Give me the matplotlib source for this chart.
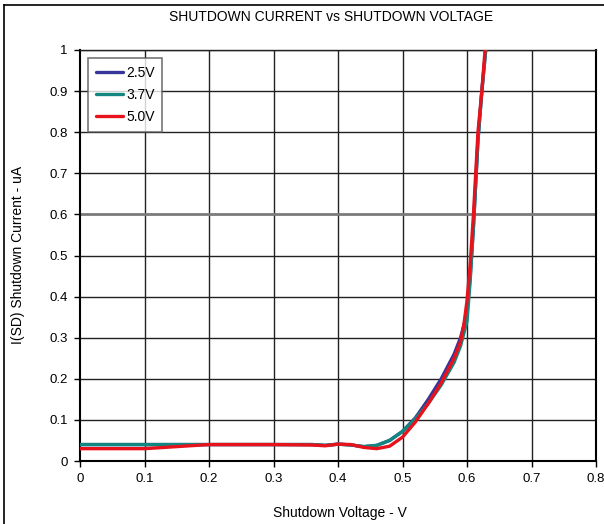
import matplotlib
matplotlib.use("Agg")
import matplotlib.pyplot as plt
from matplotlib.lines import Line2D

plt.rcParams['font.family'] = ['Liberation Sans', 'DejaVu Sans']

# Shutdown voltage (V) vs shutdown current (uA) for three supply voltages
v_25 = [0, 0.1, 0.2, 0.3, 0.36, 0.38, 0.40, 0.42, 0.44, 0.46, 0.48, 0.50,
        0.52, 0.54, 0.56, 0.58, 0.59, 0.60, 0.605, 0.61, 0.617, 0.623, 0.629]
i_25 = [0.04, 0.04, 0.04, 0.04, 0.04, 0.038, 0.041, 0.039, 0.035, 0.038, 0.05, 0.072,
        0.105, 0.15, 0.20, 0.26, 0.30, 0.36, 0.45, 0.57, 0.78, 0.9, 1.0]

v_37 = [0, 0.1, 0.2, 0.3, 0.36, 0.38, 0.40, 0.42, 0.44, 0.46, 0.48, 0.50,
        0.52, 0.54, 0.56, 0.58, 0.59, 0.60, 0.605, 0.61, 0.617, 0.623, 0.629]
i_37 = [0.04, 0.04, 0.04, 0.04, 0.04, 0.038, 0.041, 0.039, 0.035, 0.038, 0.05, 0.072,
        0.103, 0.14, 0.185, 0.24, 0.28, 0.34, 0.44, 0.57, 0.78, 0.9, 1.0]

v_50 = [0, 0.1, 0.15, 0.2, 0.3, 0.36, 0.38, 0.40, 0.42, 0.44, 0.46, 0.48, 0.50,
        0.52, 0.54, 0.56, 0.58, 0.59, 0.595, 0.60, 0.605, 0.61, 0.617, 0.623, 0.628]
i_50 = [0.03, 0.03, 0.035, 0.04, 0.04, 0.039, 0.037, 0.041, 0.04, 0.033, 0.03, 0.036, 0.058,
        0.095, 0.14, 0.19, 0.25, 0.29, 0.33, 0.39, 0.48, 0.6, 0.8, 0.9, 1.0]

series_labels = ['2.5V', '3.7V', '5.0V']
series_colors = ['#36369a', '#12877f', '#e8121c']

x_ticks = [0, 0.1, 0.2, 0.3, 0.4, 0.5, 0.6, 0.7, 0.8]
x_tick_labels = ['0', '0.1', '0.2', '0.3', '0.4', '0.5', '0.6', '0.7', '0.8']
y_ticks = [0, 0.1, 0.2, 0.3, 0.4, 0.5, 0.6, 0.7, 0.8, 0.9, 1.0]
y_tick_labels = ['0', '0.1', '0.2', '0.3', '0.4', '0.5', '0.6', '0.7', '0.8', '0.9', '1']

fig = plt.figure(figsize=(6.04, 5.24), dpi=100)
ax = fig.add_axes([80 / 604, 1 - 461 / 524, 516 / 604, 411 / 524])

# outer frame of the chart area (left and top edges visible)
fig.add_artist(Line2D([4 / 604, 4 / 604], [0, 1 - 5 / 524], transform=fig.transFigure,
                      color='black', lw=1.2))
fig.add_artist(Line2D([4 / 604, 1], [1 - 5 / 524, 1 - 5 / 524], transform=fig.transFigure,
                      color='black', lw=1.2))

# grid
for xv in x_ticks[1:-1]:
    ax.axvline(xv, color='#222222', lw=1.0, zorder=1)
for yv in y_ticks[1:]:
    if abs(yv - 0.6) < 1e-9:
        ax.axhline(yv, color='#7a7a7a', lw=2.0, zorder=1)
    else:
        ax.axhline(yv, color='#222222', lw=1.0, zorder=1)

for (xs, ys), lab, col in zip([(v_25, i_25), (v_37, i_37), (v_50, i_50)],
                              series_labels, series_colors):
    ax.plot(xs, ys, color=col, lw=2.4, label=lab, zorder=3, solid_capstyle='round')

ax.set_xlim(0, 0.8)
ax.set_ylim(0, 1.0)
ax.set_xticks(x_ticks)
ax.set_xticklabels(x_tick_labels)
ax.set_yticks(y_ticks)
ax.set_yticklabels(y_tick_labels)
ax.tick_params(axis='both', direction='out', length=4, width=1, labelsize=9.5, pad=5)

for side in ['left', 'bottom', 'right']:
    ax.spines[side].set_linewidth(1.5)
    ax.spines[side].set_color('black')
ax.spines['top'].set_linewidth(1.0)
ax.spines['top'].set_color('#222222')

fig.text(331 / 604, 1 - 17 / 524, 'SHUTDOWN CURRENT vs SHUTDOWN VOLTAGE',
         ha='center', va='center', fontsize=10)
fig.text(340 / 604, 1 - 513 / 524, 'Shutdown Voltage - V', ha='center', va='center', fontsize=10)
fig.text(18 / 604, 1 - 255 / 524, 'I(SD) Shutdown Current - uA', ha='center', va='center',
         rotation=90, fontsize=10)

leg = ax.legend(loc='upper left', bbox_to_anchor=(8 / 516, 1 - 8 / 411), borderaxespad=0,
                fontsize=10, frameon=True, fancybox=False, handlelength=2.0,
                handletextpad=0.2, labelspacing=0.6, borderpad=0.55)
leg.get_frame().set_edgecolor('#555555')
leg.get_frame().set_linewidth(1.2)
leg.set_zorder(5)

fig.savefig('out.png', dpi=100)
